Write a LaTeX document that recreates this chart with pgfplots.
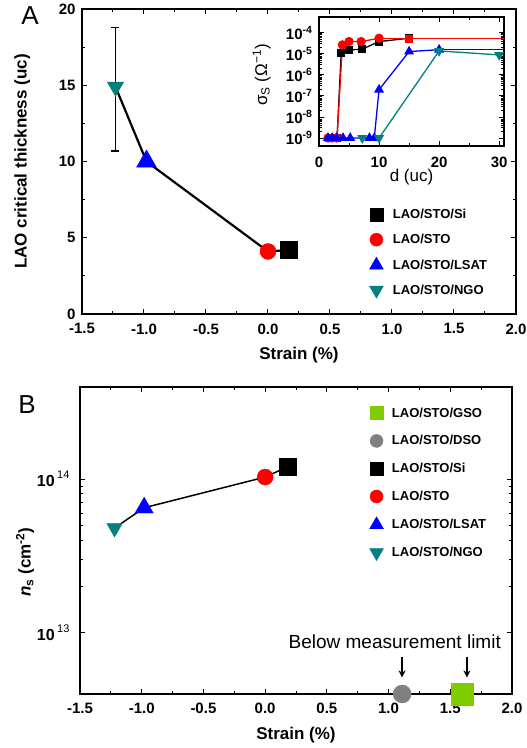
\documentclass[border=0pt]{standalone}
\usepackage{pgfplots}
\pgfplotsset{compat=1.18}
\usepackage{fontspec}
\setmainfont{Liberation Sans}
\usetikzlibrary{arrows.meta}
\definecolor{tealc}{RGB}{0,128,128}
\definecolor{gsogreen}{RGB}{126,204,0}
\definecolor{dsogray}{RGB}{128,128,128}
\newcommand{\legf}{\fontsize{13}{13}\selectfont\bfseries}
\newcommand{\tenp}[1]{{\fontsize{16}{16}\selectfont\bfseries 10}\,\raisebox{8.5pt}{\fontsize{11}{11}\selectfont\mdseries #1}}
\pgfplotsset{
  common/.style={
    scale only axis, anchor=south west, clip=false,
    tick style={line width=1pt, black}, major tick length=5pt, minor tick length=3pt,
    axis line style={line width=1.2pt},
    tick label style={font=\fontsize{15}{15}\selectfont\bfseries},
    label style={font=\fontsize{17}{17}\selectfont\bfseries},
    xticklabel style={yshift=-6pt},
    yticklabel style={xshift=-3pt},
    legend cell align=left,
    legend style={draw=none, fill=none, inner sep=0pt, row sep=10pt, column sep=9pt,
      font=\legf,
      nodes={text height=11pt, text depth=3pt, inner sep=0.5pt}},
  }
}
\begin{document}
\begin{tikzpicture}[x=1pt,y=1pt]
\useasboundingbox (0pt,0pt) rectangle (527pt,748pt);
\node[font=\fontsize{26}{26}\selectfont] at (30pt,732pt) {A};
\node[font=\fontsize{26}{26}\selectfont] at (27pt,343pt) {B};

% ---------------- Panel A ----------------
\begin{axis}[common,
  at={(82pt,434pt)}, width=434pt, height=305pt,
  xmin=-1.5, xmax=2, ymin=0, ymax=20,
  xtick={-1.5,-1,-0.5,0,0.5,1,1.5,2},
  xticklabels={-1.5,-1.0,-0.5,0.0,0.5,1.0,1.5,2.0},
  minor x tick num=1,
  ytick={0,5,10,15,20}, yticklabels={0,5,10,15,20}, minor y tick num=1,
  xlabel={Strain (\%)}, ylabel={LAO critical thickness (uc)},
  xlabel style={at={(axis description cs:0.5,-0.134)}, anchor=center},
  ylabel style={at={(axis description cs:-0.138,0.5)}, anchor=center},
  legend style={at={(axis description cs:0.662,0.351)}, anchor=north west},
]
\addplot[forget plot, draw=none, mark=none, error bars/.cd, y dir=both, y explicit,
  error bar style={line width=1.5pt, black},
  error mark options={rotate=90, mark size=4pt, line width=1.5pt, black}]
  coordinates {(-1.23,14.9) += (0,3.9) -= (0,4.2)};
\addplot[forget plot, black, line width=2.2pt] coordinates {(-1.23,14.9) (-0.98,10.0) (0,4.1) (0.17,4.2)};
\addplot[forget plot, only marks, mark=square*, black, mark size=8.5pt] coordinates {(0.17,4.2)};
\addplot[forget plot, only marks, mark=*, red, mark size=8pt] coordinates {(0,4.1)};
\addplot[forget plot, only marks, mark=triangle*, blue, mark size=11.5pt] coordinates {(-0.98,10.0)};
\addplot[forget plot, only marks, mark=triangle*, tealc, mark size=9.5pt, mark options={rotate=180}] coordinates {(-1.23,14.9)};
\addlegendimage{only marks, mark=square*, black, mark size=6.5pt}
\addlegendentry{\legf LAO/STO/Si}
\addlegendimage{only marks, mark=*, red, mark size=6.5pt}
\addlegendentry{\legf LAO/STO}
\addlegendimage{only marks, mark=triangle*, blue, mark size=8pt}
\addlegendentry{\legf LAO/STO/LSAT}
\addlegendimage{only marks, mark=triangle*, tealc, mark size=8pt, mark options={rotate=180}}
\addlegendentry{\legf LAO/STO/NGO}
\end{axis}

% ---------------- Inset ----------------
\begin{axis}[common, clip=true,
  at={(319pt,602pt)}, width=185pt, height=129pt,
  axis background/.style={fill=white},
  xmin=0, xmax=30.8, ymode=log, ymin=4.17e-10, ymax=5.75e-4,
  xtick={0,10,20,30}, xticklabels={0,10,20,30}, minor x tick num=1,
  ytick={1e-9,1e-8,1e-7,1e-6,1e-5,1e-4},
  yticklabels={10\textsuperscript{-9},10\textsuperscript{-8},10\textsuperscript{-7},10\textsuperscript{-6},10\textsuperscript{-5},10\textsuperscript{-4}},
  minor ytick={}, 
  tick label style={font=\fontsize{15}{15}\selectfont\bfseries},
  xticklabel style={yshift=-1pt},
  yticklabel style={xshift=0pt},
  xlabel={d (uc)}, ylabel={σ\textsubscript{S} (Ω\textsuperscript{−1})},
  label style={font=\fontsize{17}{17}\selectfont\mdseries},
  xlabel style={at={(axis description cs:0.5,-0.24)}, anchor=center},
  ylabel style={at={(axis description cs:-0.31,0.55)}, anchor=center},
]
\addplot[black, line width=1.3pt, mark=square*, mark size=3.5pt] coordinates {
 (2,1e-9) (3,1e-9) (3.7,1.15e-5) (5,1.55e-5) (7.2,1.7e-5) (10,3.9e-5) (15,5.6e-5)};
\addplot[red, line width=1.3pt, mark=*, mark size=4pt] coordinates {
 (1.5,1e-9) (2.2,1e-9) (3,1e-9) (3.9,2.7e-5) (5,3.9e-5) (7,3.9e-5) (10,5.6e-5)};
\addplot[red, line width=1.3pt] coordinates {(10,5.6e-5) (15,5.6e-5) (32,5.6e-5)};
\addplot[only marks, red, mark=square*, mark size=3.5pt] coordinates {(15,5.6e-5)};
\addplot[blue, line width=1.3pt, mark=triangle*, mark size=4.5pt] coordinates {
 (1.5,1e-9) (2.2,1e-9) (2.9,1e-9) (4,1e-9) (5.2,1e-9) (8.4,1e-9) (9.2,1e-9) (10,2e-7) (15,1.3e-5) (20,1.6e-5)};
\addplot[blue, line width=1.3pt] coordinates {(20,1.6e-5) (32,1.6e-5)};
\addplot[tealc, line width=1.3pt, mark=triangle*, mark size=4.5pt, mark options={rotate=180}] coordinates {
 (7.2,1e-9) (10,1e-9) (20,1.4e-5) (30,9e-6)};
\end{axis}

% ---------------- Panel B ----------------
\begin{axis}[common,
  at={(80pt,54pt)}, width=432pt, height=307pt,
  xmin=-1.5, xmax=2, ymode=log, ymin=3.98e12, ymax=3.98e14,
  xtick={-1.5,-1,-0.5,0,0.5,1,1.5,2},
  xticklabels={-1.5,-1.0,-0.5,0.0,0.5,1.0,1.5,2.0},
  minor x tick num=1,
  ytick={1e13,1e14},
  yticklabels={{\tenp{13}},{\tenp{14}}},
  yticklabel style={xshift=-4pt},
  xlabel={Strain (\%)}, ylabel={\textit{n}\textsubscript{s} (cm\textsuperscript{-2})},
  xlabel style={at={(axis description cs:0.5,-0.133)}, anchor=center},
  ylabel style={at={(axis description cs:-0.127,0.43)}, anchor=center},
  legend style={at={(axis description cs:0.670,0.94)}, anchor=north west, row sep=12.8pt, column sep=8pt},
]
\addplot[forget plot, black, line width=1.5pt] coordinates {(-1.22,4.8e13) (-0.98,6.5e13) (0,1.03e14) (0.18,1.2e14)};
\addplot[forget plot, only marks, mark=square*, black, mark size=8.5pt] coordinates {(0.18,1.2e14)};
\addplot[forget plot, only marks, mark=*, red, mark size=8pt] coordinates {(0,1.03e14)};
\addplot[forget plot, only marks, mark=triangle*, blue, mark size=10.5pt] coordinates {(-0.98,6.5e13)};
\addplot[forget plot, only marks, mark=triangle*, tealc, mark size=9pt, mark options={rotate=180}] coordinates {(-1.22,4.8e13)};
\addplot[forget plot, only marks, mark=*, dsogray, mark size=9pt] coordinates {(1.11,3.98e12)};
\addplot[forget plot, only marks, mark=square*, gsogreen, mark size=11pt] coordinates {(1.595,3.98e12)};
\draw[line width=1.5pt, -{Stealth[length=7pt,width=7pt]}] (axis cs:1.109,6.9e12) -- (axis cs:1.109,5.1e12);
\draw[line width=1.5pt, -{Stealth[length=7pt,width=7pt]}] (axis cs:1.635,6.9e12) -- (axis cs:1.635,5.1e12);
\node[font=\fontsize{19}{19}\selectfont] at (axis cs:1.05,8.7e12) {Below measurement limit};
\addlegendimage{only marks, mark=square*, gsogreen, mark size=6.5pt}
\addlegendentry{\legf LAO/STO/GSO}
\addlegendimage{only marks, mark=*, dsogray, mark size=6.5pt}
\addlegendentry{\legf LAO/STO/DSO}
\addlegendimage{only marks, mark=square*, black, mark size=6.5pt}
\addlegendentry{\legf LAO/STO/Si}
\addlegendimage{only marks, mark=*, red, mark size=6.5pt}
\addlegendentry{\legf LAO/STO}
\addlegendimage{only marks, mark=triangle*, blue, mark size=8pt}
\addlegendentry{\legf LAO/STO/LSAT}
\addlegendimage{only marks, mark=triangle*, tealc, mark size=8pt, mark options={rotate=180}}
\addlegendentry{\legf LAO/STO/NGO}
\end{axis}
\end{tikzpicture}
\end{document}
